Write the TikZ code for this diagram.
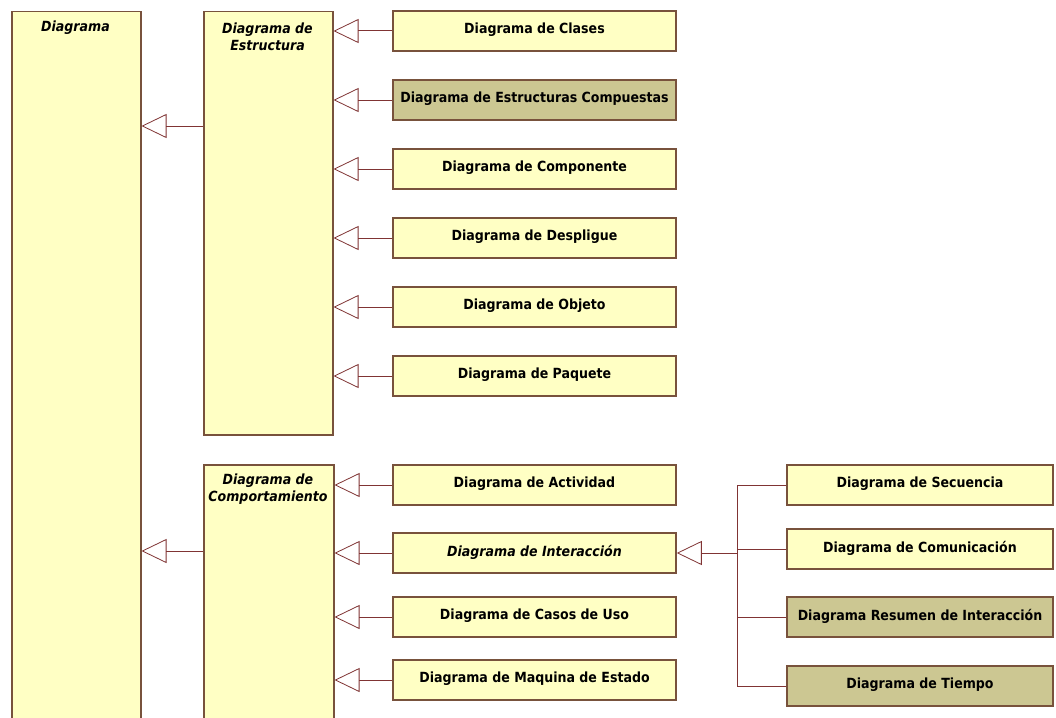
\documentclass[tikz,border=0pt]{standalone}
\usepackage{fontspec}
\setmainfont{DejaVu Sans Condensed}
\usepackage{tikz}
\usetikzlibrary{arrows.meta}
\definecolor{umlyellow}{RGB}{255,255,196}
\definecolor{umlolive}{RGB}{204,199,146}
\definecolor{umlborder}{RGB}{120,82,60}
\definecolor{umlline}{RGB}{128,52,52}
\begin{document}
\begin{tikzpicture}[x=1pt,y=-1pt]

%
% Styles
%
\tikzstyle{caja}    = [rectangle,draw=umlborder,fill=umlyellow,line width=1.5pt,inner sep=0pt]
\tikzstyle{hoja}    = [caja,minimum width=283pt,minimum height=40pt,text depth=5pt,font=\fontsize{14}{17}\selectfont\bfseries]
\tikzstyle{hojader} = [hoja,minimum width=266pt]
\tikzstyle{oscura}  = [fill=umlolive]
\tikzstyle{titulo}  = [align=center,font=\fontsize{14}{17}\selectfont\bfseries\itshape]
\tikzstyle{linea}   = [draw=umlline,line width=1pt]
\tikzstyle{hereda}  = [linea,-{Triangle[open,length=25pt,width=24pt,line width=0.8pt]}]

\clip (0,0) rectangle (1056,717);
\fill[white] (0,0) rectangle (1056,717);

% abstract boxes
\node[caja,anchor=north west,minimum width=129pt,minimum height=740pt] (diag) at (11,11) {};
\node[titulo] (tdiag) at (75.5,28) {Diagrama};
\node[caja,anchor=north west,minimum width=129pt,minimum height=423pt] (estr) at (203,11) {};
\node[titulo] (testr) at (267.5,37) {Diagrama de\\Estructura};
\node[caja,anchor=north west,minimum width=130pt,minimum height=280pt] (comp) at (203,464) {};
\node[titulo] (tcomp) at (268,489) {Diagrama de\\Comportamiento};

% structure diagrams
\node[hoja]        (clases) at (534.5,31)  {Diagrama de Clases};
\node[hoja,oscura] (compue) at (534.5,100) {Diagrama de Estructuras Compuestas};
\node[hoja]        (compon) at (534.5,169) {Diagrama de Componente};
\node[hoja]        (despli) at (534.5,238) {Diagrama de Despligue};
\node[hoja]        (objeto) at (534.5,307) {Diagrama de Objeto};
\node[hoja]        (paquet) at (534.5,376) {Diagrama de Paquete};

% behaviour diagrams
\node[hoja]             (activ) at (534.5,485) {Diagrama de Actividad};
\node[hoja,font=\fontsize{14}{17}\selectfont\bfseries\itshape] (inter) at (534.5,553) {Diagrama de Interacción};
\node[hoja]             (casos) at (534.5,617) {Diagrama de Casos de Uso};
\node[hoja]             (maqui) at (534.5,680) {Diagrama de Maquina de Estado};

% interaction diagrams
\node[hojader]        (secue) at (920,485) {Diagrama de Secuencia};
\node[hojader]        (comun) at (920,549) {Diagrama de Comunicación};
\node[hojader,oscura] (resum) at (920,617) {Diagrama Resumen de Interacción};
\node[hojader,oscura] (tiemp) at (920,686) {Diagrama de Tiempo};

\coordinate (bus) at (737,553);

\draw[hereda] (estr.west |- 0,126) -- (diag.east |- 0,126);
\draw[hereda] (comp.west |- 0,551) -- (diag.east |- 0,551);

\foreach \n in {clases,compue,compon,despli,objeto,paquet}
  \draw[hereda] (\n.west) -- (estr.east |- \n.west);
\foreach \n in {activ,inter,casos,maqui}
  \draw[hereda] (\n.west) -- (comp.east |- \n.west);

\foreach \n in {secue,comun,resum,tiemp}
  \draw[linea] (\n.west) -| (bus);
\draw[hereda] (bus) -- (inter.east);

\end{tikzpicture}
\end{document}
